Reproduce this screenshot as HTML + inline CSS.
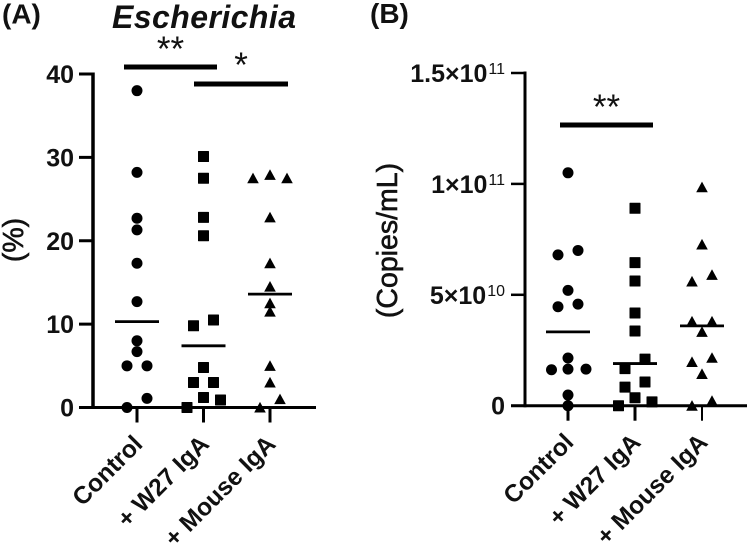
<!DOCTYPE html>
<html>
<head>
<meta charset="utf-8">
<title>Escherichia charts</title>
<style>
html,body{margin:0;padding:0;background:#fff;}
svg{display:block;}
text{font-family:"Liberation Sans",Arial,sans-serif;fill:#111;}
</style>
</head>
<body>
<svg id="chart" width="749" height="545" viewBox="0 0 749 545" xmlns="http://www.w3.org/2000/svg">
  <text x="2" y="23.5" font-size="28" font-weight="bold">(A)</text>
  <text x="112" y="28" font-size="32" font-weight="bold" font-style="italic" textLength="184" lengthAdjust="spacing">Escherichia</text>
  <text x="23" y="240" font-size="28.5" stroke="#111" stroke-width="0.6" text-anchor="middle" transform="rotate(-90 23 240)">(%)</text>
  <text x="370" y="23" font-size="28" font-weight="bold">(B)</text>
  <text x="397" y="240.5" font-size="28.5" stroke="#111" stroke-width="0.6" text-anchor="middle" transform="rotate(-90 397 240.5)">(Copies/mL)</text>
</svg>
<script>
var categories = ['Control', '+ W27 IgA', '+ Mouse IgA'];

var ticksA = [0, 10, 20, 30, 40];
var tickLabelsA = ['0', '10', '20', '30', '40'];
var controlA = [38, 28.2, 22.7, 21.3, 17.3, 12.7, 8, 6.7, 5, 5, 1.1, 0];
var controlSlotsA = [0, 0, 0, 0, 0, 0, 0, 0, -1, 1, 1, -1];
var w27A = [30.1, 27.5, 22.8, 20.6, 10.5, 9.8, 4.8, 3, 3, 1.2, 0.9, 0];
var w27SlotsA = [0, 0, 0, 0, 1, -1, 0, -1, 1, 0, 1.7, -1.65];
var mouseA = [27.5, 27.9, 27.5, 22.8, 17.3, 14.5, 12.5, 11.5, 5, 3, 1, 0];
var mouseSlotsA = [-1.7, 0, 1.7, 0, 0, 0, 0, 0, 0, 0, 1, -1];
var mediansA = [10.3, 7.4, 13.6];

var ticksB = [0, 5e10, 1e11, 1.5e11];
var tickLabelsB = ['0', '5×10', '1×10', '1.5×10'];
var tickExponentsB = ['', '10', '11', '11'];
var controlB = [10.5, 7.0, 6.8, 5.2, 4.46, 4.58, 2.15, 1.62, 1.65, 1.65, 0.48, 0];
var controlSlotsB = [0, 1, -1, 0, -1, 1, 0, -1.65, 0, 1.8, 0, 0];
var w27B = [8.9, 6.45, 5.62, 4.18, 3.37, 2.1, 1.67, 0.84, 1.07, 0.36, 0.17, 0];
var w27SlotsB = [0, 0, 0, 0, 0, 1, -1, -1, 1, 0, 1.7, -1.65];
var mouseB = [9.85, 7.27, 5.9, 5.6, 3.8, 3.8, 3.33, 1.97, 2.16, 1.43, 0.22, 0];
var mouseSlotsB = [0, 0, 1, -1, -1, 1, 0, -1, 1, 0, 1, -1];
var mediansB = [3.33, 1.9, 3.6];
var scaleUnitB = 1e10;

var svg = document.getElementById('chart');
var NS = 'http://www.w3.org/2000/svg';

function make(tag, attrs) {
  var el = document.createElementNS(NS, tag);
  for (var k in attrs) { el.setAttribute(k, attrs[k]); }
  svg.appendChild(el);
  return el;
}

function linear(d0, d1, r0, r1) {
  return function (v) { return r0 + (v - d0) / (d1 - d0) * (r1 - r0); };
}

function drawMarker(shape, cx, cy) {
  var el;
  if (shape === 'circle') {
    el = make('circle', { cx: cx, cy: cy, r: 5.5, fill: '#000' });
  } else if (shape === 'square') {
    el = make('rect', { x: cx - 5.5, y: cy - 5.5, width: 11, height: 11, rx: 0.6, fill: '#000' });
  } else {
    el = make('polygon', { points: (cx - 5.8) + ',' + (cy + 5) + ' ' + (cx + 5.8) + ',' + (cy + 5) + ' ' + cx + ',' + (cy - 5.6), fill: '#000' });
  }
  return el;
}

function drawPanel(cfg) {
  var y = cfg.y;
  var xOf = function (i) { return cfg.catX + i * cfg.catStep; };

  var axis = make('line', { x1: cfg.axisX, x2: cfg.axisX, y1: y(cfg.yMax) - 1.5, y2: y(0) + 1.5, stroke: '#000', 'stroke-width': cfg.axisWidth });
  
  

  var xAxis = make('line', { x1: cfg.axisX - 14, x2: cfg.axisEnd, y1: y(0), y2: y(0), stroke: '#000', 'stroke-width': 3 });
  
  

  cfg.ticks.forEach(function (t, i) {
    var tick = make('line', { x1: cfg.axisX - 14, x2: cfg.axisX, y1: y(t), y2: y(t), stroke: '#000', 'stroke-width': cfg.tickWidth });
    
    

    var label = make('text', { x: cfg.labelX, y: y(t) + 9, 'font-size': cfg.labelSize, 'font-weight': 'bold', 'text-anchor': 'end' });
    
    
    label.textContent = cfg.tickLabels[i];
    if (cfg.exponents && cfg.exponents[i]) {
      var sup = document.createElementNS(NS, 'tspan');
      sup.setAttribute('font-size', '16');
      sup.setAttribute('font-weight', 'normal');
      sup.setAttribute('dy', '-8');
      sup.setAttribute('dx', '1');
      sup.textContent = cfg.exponents[i];
      label.appendChild(sup);
    }
  });

  categories.forEach(function (c, i) {
    var tick = make('line', { x1: xOf(i), x2: xOf(i), y1: y(0), y2: y(0) + 15, stroke: '#000', 'stroke-width': i === 2 && cfg.id === 'panel-b' ? 2 : 3 });
    
    

    var lx = xOf(i) + 7;
    var ly = y(0) + 38;
    var label = make('text', { x: lx, y: ly, 'font-size': 24.5, 'font-weight': 'bold', 'text-anchor': 'end', transform: 'rotate(-45 ' + lx + ' ' + ly + ')' });
    
    
    label.textContent = c;
  });

  cfg.series.forEach(function (s, i) {
    s.values.forEach(function (v, j) {
      var m = drawMarker(s.shape, xOf(i) + s.slots[j] * cfg.slotStep, y(v * cfg.unit));
      
      
    });
    var cy = y(cfg.medians[i] * cfg.unit);
    var med = make('line', { x1: xOf(i) - 22, x2: xOf(i) + 22, y1: cy, y2: cy, stroke: '#000', 'stroke-width': 2.8 });
    
    
  });

  cfg.brackets.forEach(function (b) {
    var bar = make('rect', { x: b.x, y: b.y - 2.5, width: b.w, height: 5, fill: '#000' });
    
    
    var star = make('text', { x: b.x + b.w / 2 + b.dx, y: b.y + b.dy, 'font-size': 35, 'text-anchor': 'middle' });
    
    
    star.textContent = b.stars;
  });
}

drawPanel({
  id: 'panel-a',
  y: linear(0, 40, 407.5, 74),
  yMax: 40,
  axisX: 93, axisEnd: 316, axisWidth: 3.5, tickWidth: 3,
  labelX: 74, labelSize: 25,
  catX: 137, catStep: 66.5, slotStep: 10,
  unit: 1,
  ticks: ticksA,
  tickLabels: tickLabelsA,
  medians: mediansA,
  series: [
    { shape: 'circle', values: controlA, slots: controlSlotsA },
    { shape: 'square', values: w27A, slots: w27SlotsA },
    { shape: 'triangle', values: mouseA, slots: mouseSlotsA }
  ],
  brackets: [
    { x: 124, y: 67, w: 93, stars: '**', dx: 0, dy: -6 },
    { x: 194, y: 84, w: 94, stars: '*', dx: 0, dy: -7 }
  ]
});

drawPanel({
  id: 'panel-b',
  y: linear(0, 1.5e11, 405.7, 73),
  yMax: 1.5e11,
  axisX: 525, axisEnd: 747, axisWidth: 3, tickWidth: 2.5,
  labelX: 505, labelSize: 25,
  catX: 568, catStep: 67, slotStep: 10,
  unit: scaleUnitB,
  ticks: ticksB,
  tickLabels: tickLabelsB,
  exponents: tickExponentsB,
  medians: mediansB,
  series: [
    { shape: 'circle', values: controlB, slots: controlSlotsB },
    { shape: 'square', values: w27B, slots: w27SlotsB },
    { shape: 'triangle', values: mouseB, slots: mouseSlotsB }
  ],
  brackets: [
    { x: 560, y: 125, w: 93, stars: '**', dx: 0, dy: -6 }
  ]
});
</script>
</body>
</html>
